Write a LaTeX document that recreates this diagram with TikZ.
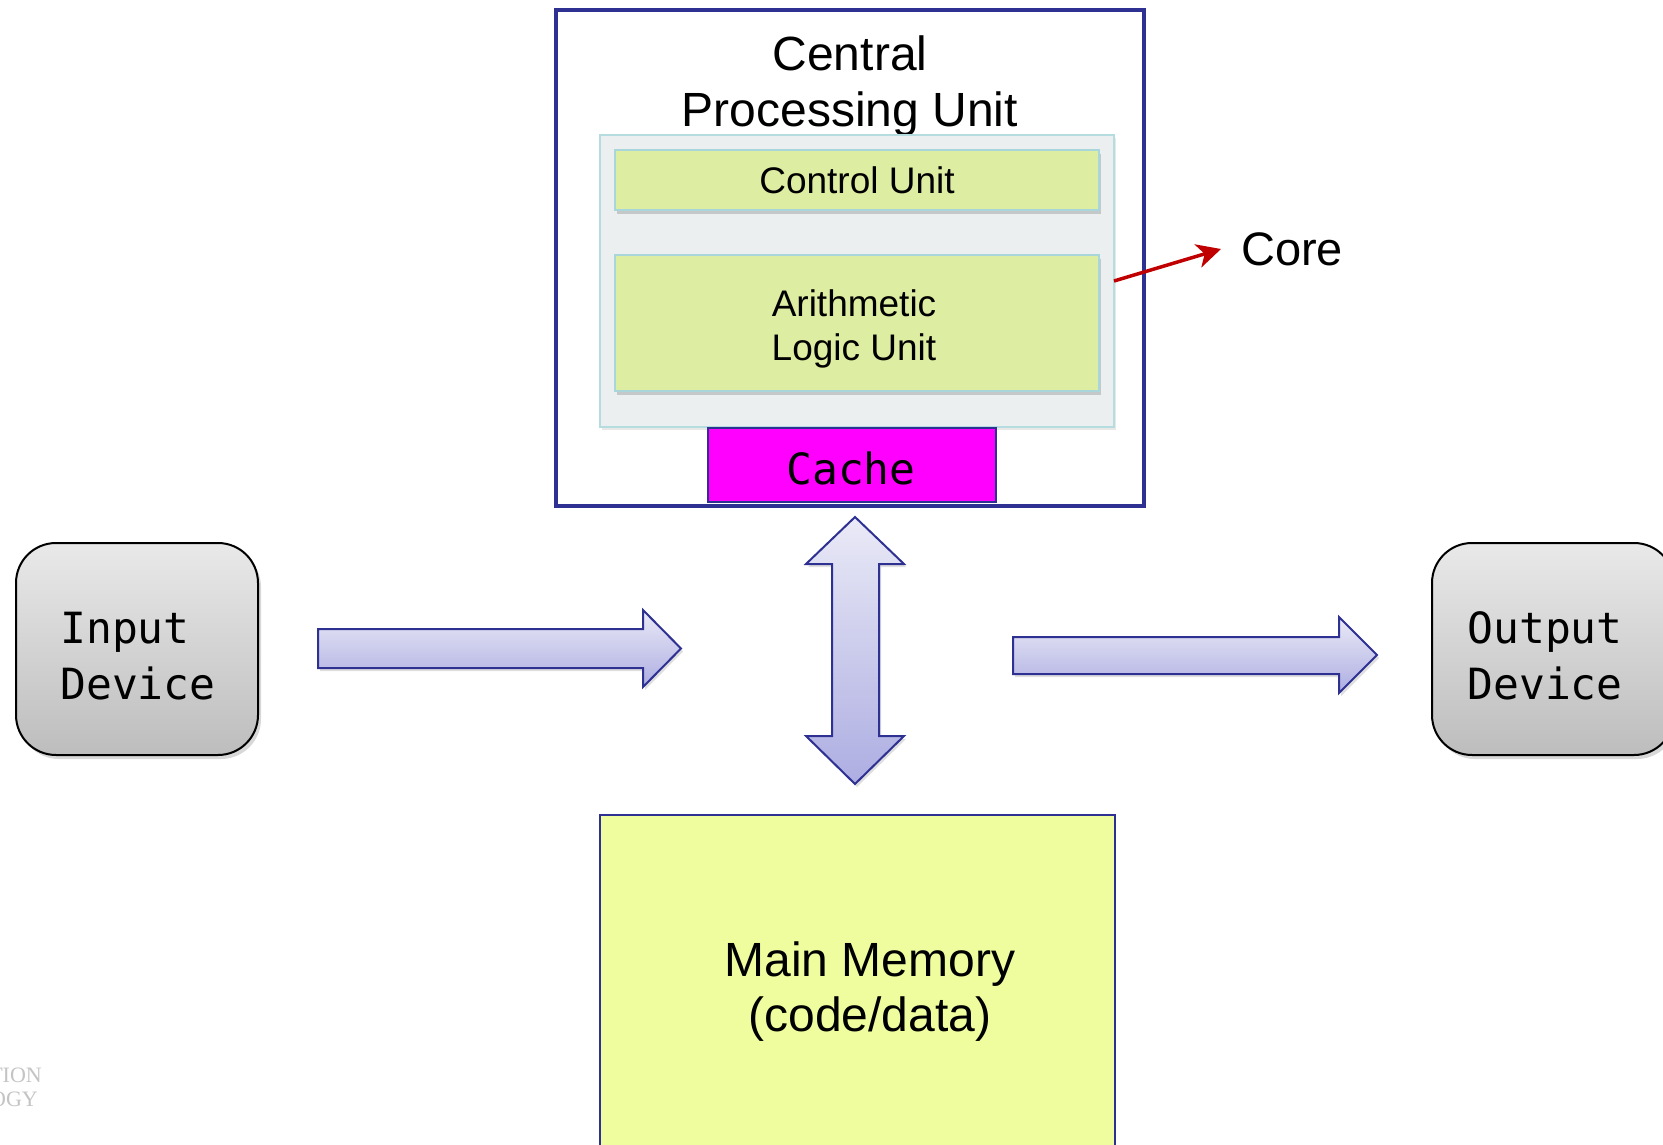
\documentclass[tikz,border=0pt]{standalone}
\usepackage{fontspec}
\setmainfont{Liberation Sans}
\newfontfamily\monofont{DejaVu Sans Mono}
\newfontfamily\wmfont{Liberation Serif}
\usetikzlibrary{shadows,arrows.meta}
\definecolor{navy}{HTML}{2E3192}
\definecolor{corefill}{HTML}{EBEFF0}
\definecolor{coreline}{HTML}{B5DDE0}
\definecolor{unitfill}{HTML}{DDEDA1}
\definecolor{unitline}{HTML}{A9D6DA}
\definecolor{memfill}{HTML}{EFFD9F}
\definecolor{cachefill}{HTML}{FF00FF}
\definecolor{arrowtop}{HTML}{EAEAF7}
\definecolor{arrowbot}{HTML}{ADADE2}
\definecolor{devtop}{HTML}{E9E9E9}
\definecolor{devbot}{HTML}{BDBDBD}
\definecolor{redline}{HTML}{C00000}
\definecolor{wmgray}{HTML}{C4C4C4}
\tikzset{
  box/.style={rectangle, inner sep=0pt, outer sep=0pt},
  cpubox/.style={box, draw=navy, line width=4pt, fill=white},
  corebox/.style={box, draw=coreline, line width=2pt, fill=corefill,
    drop shadow={shadow xshift=2pt, shadow yshift=-3pt, opacity=0.18}},
  unitbox/.style={box, draw=unitline, line width=2pt, fill=unitfill,
    drop shadow={shadow xshift=2pt, shadow yshift=-4pt, opacity=0.35}},
  cachebox/.style={box, draw=navy, line width=1.5pt, fill=cachefill},
  membox/.style={box, draw=navy, line width=2pt, fill=memfill},
  devbox/.style={box, draw=black, line width=2pt, rounded corners=40pt,
    top color=devtop, bottom color=devbot,
    drop shadow={shadow xshift=3pt, shadow yshift=-4pt, opacity=0.3}},
  blockarrow/.style={draw=navy, line width=2pt, line join=miter,
    top color=arrowtop, bottom color=arrowbot,
    drop shadow={shadow xshift=2pt, shadow yshift=-3pt, opacity=0.25}},
  sanstext/.style={inner sep=0pt, align=center, text=black},
  monotext/.style={inner sep=0pt, align=left, font=\monofont\fontsize{43}{56}\selectfont},
  corearrow/.style={draw=redline, line width=3.5pt, -{Stealth[length=24pt,width=24pt,inset=7pt]}},
}
\begin{document}
\begin{tikzpicture}[x=1pt,y=-1pt]
\useasboundingbox (0,0) rectangle (1663,1145);
\fill[white] (0,0) rectangle (1663,1145);

% CPU
\node[cpubox, minimum width=588, minimum height=496] (cpu) at (850,258) {};
\node[sanstext, font=\fontsize{48}{56}\selectfont] (cputitle) at (850,86) {Central\\Processing Unit};

% Core
\node[corebox, minimum width=514, minimum height=292] (core) at (857,281) {};
\node[unitbox, minimum width=484, minimum height=60, font=\fontsize{37}{44}\selectfont] (cu) at (857,180) {Control Unit};
\node[unitbox, minimum width=484, minimum height=136] (alu) at (857,323) {};
\node[sanstext, font=\fontsize{37}{44}\selectfont] (alutext) at (854,329) {Arithmetic\\Logic Unit};

% Cache
\node[cachebox, minimum width=288, minimum height=74] (cache) at (852,465) {};
\node[inner sep=0pt, font=\monofont\fontsize{43}{50}\selectfont] (cachetext) at (851,468) {Cache};

% Core label
\node[inner sep=0pt, anchor=west, font=\fontsize{47}{56}\selectfont] (corelabel) at (1241,249) {Core};
\draw[corearrow] (core.east) -- ([xshift=-20pt]corelabel.west);

% Devices
\node[devbox, minimum width=242, minimum height=212] (input) at (137,649) {};
\node[monotext] (intext) at (138,656) {Input\\Device};
\node[devbox, minimum width=242, minimum height=212] (output) at (1553,649) {};
\node[monotext] (outtext) at (1545,656) {Output\\Device};

% Block arrows
\path[blockarrow] (318,629) -- (643,629) -- (643,610) -- (681,648.5) -- (643,687) -- (643,668) -- (318,668) -- cycle;
\path[blockarrow] (1013,637) -- (1339,637) -- (1339,617) -- (1377,655) -- (1339,693) -- (1339,674) -- (1013,674) -- cycle;
\path[blockarrow] (855,517) -- (904,564) -- (879,564) -- (879,736) -- (904,736) -- (855,784) -- (806,736) -- (832,736) -- (832,564) -- (806,564) -- cycle;

% Main memory
\node[membox, minimum width=515, minimum height=345] (mem) at (857.5,987.5) {};
\node[sanstext, font=\fontsize{48}{55}\selectfont] (memtext) at (870,992) {Main Memory\\(code/data)};

% Watermark fragments (cut at the left edge, as in the reference)
\node[inner sep=0pt, anchor=base east, text=wmgray, font=\wmfont\fontsize{22}{24}\selectfont] (wm1) at (42,1082) {TION};
\node[inner sep=0pt, anchor=base east, text=wmgray, font=\wmfont\fontsize{22}{24}\selectfont] (wm2) at (38,1106) {OGY};
\end{tikzpicture}
\end{document}
